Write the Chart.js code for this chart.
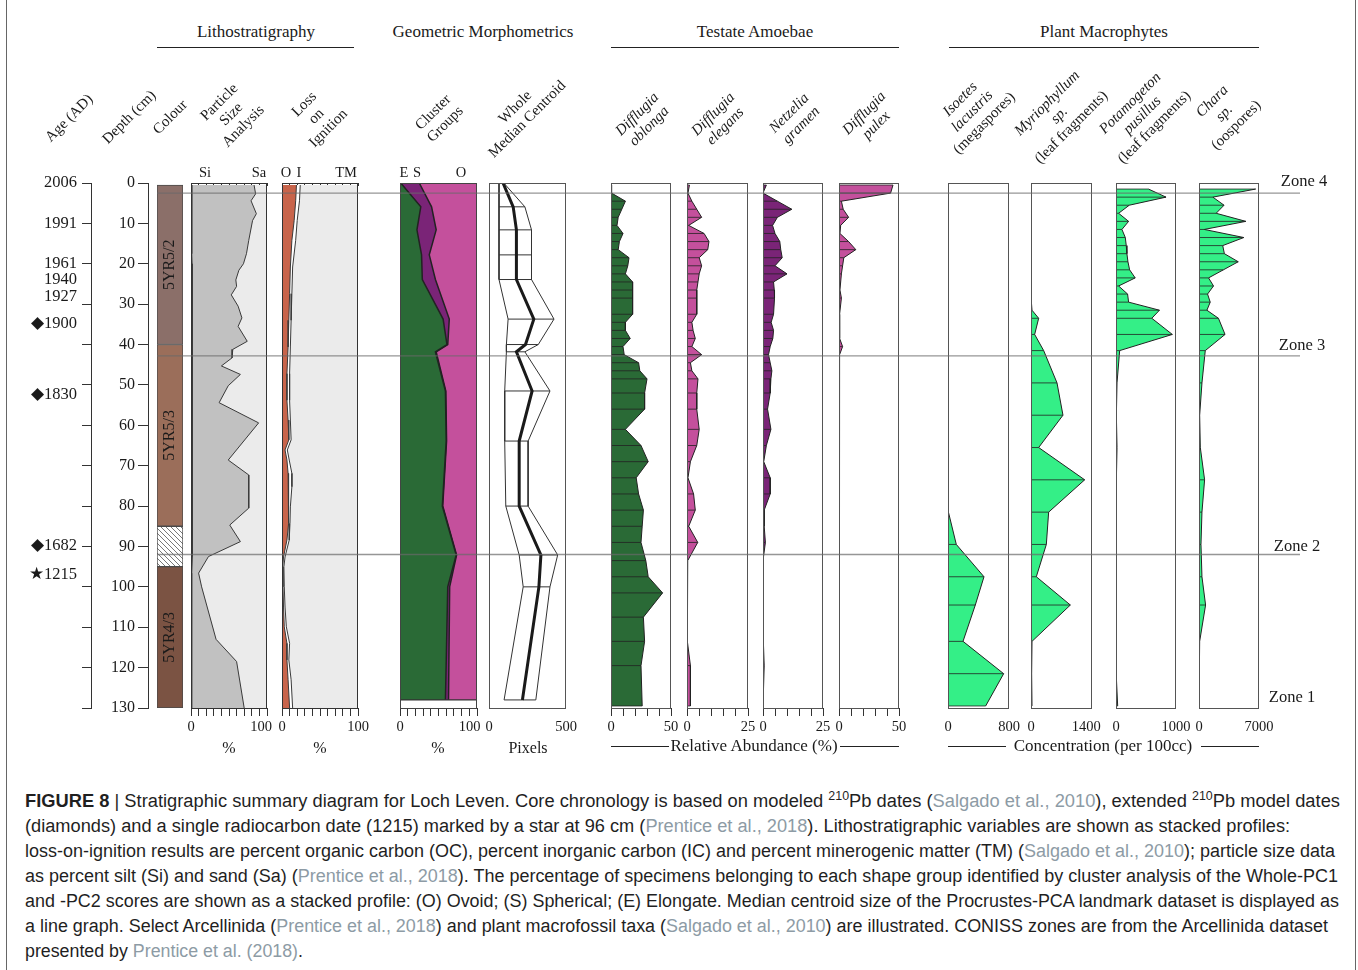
<!DOCTYPE html>
<html>
<head>
<meta charset="utf-8">
<script src="https://cdn.jsdelivr.net/npm/chart.js@4.4.1/dist/chart.umd.min.js"></script>
<style>
  html, body { margin: 0; padding: 0; background: #fff; }
  body { width: 1358px; height: 970px; position: relative; overflow: hidden;
         font-family: "Liberation Serif", "Times New Roman", serif; color: #1a1a1a; }
  canvas { position: absolute; }
  .t { position: absolute; white-space: nowrap; font-size: 16px; line-height: 18px; transform: translate(-50%, -50%); }
  .rot { position: absolute; white-space: nowrap; text-align: center; font-size: 15px; line-height: 17px;
         transform: translate(-50%, -50%) rotate(-45deg); }
  .hl { position: absolute; height: 0; border-top: 1.3px solid #222; }
  #frame { position: absolute; left: 6px; top: -3px; width: 1348px; height: 990px; border: 1.5px solid #666; }
  #caption { position: absolute; left: 25px; top: 789px; font-family: "Liberation Sans Narrow", "Liberation Sans", Arial, sans-serif;
             font-size: 18px; line-height: 25px; color: #1f1f1f; white-space: nowrap; }
  #caption > div { transform-origin: 0 50%; }
  #caption .ref { color: #8d9ba5; }
  #caption sup { font-size: 0.68em; line-height: 0; }
</style>
</head>
<body>
<div id="frame"></div>
<div id="caption"></div>
<script>
// ===================== DATA =====================
// Age axis (labels placed at their depth in cm)
const ageDepths = [0, 10, 20, 24, 28.2, 34.9, 52.3, 89.9, 97];
const ageLabels = ['2006', '1991', '1961', '1940', '1927', '\u25C61900', '\u25C61830', '\u25C61682', '\u26051215'];

// Munsell colour units (depth ranges, cm)
const colourTop = [0.5, 40, 85, 95];
const colourBottom = [40, 85, 95, 130];
const colourNames = ['5YR5/2', '5YR5/3', '', '5YR4/3'];

// Particle size analysis (%)
const psDepth = [0.5, 2.7, 4.4, 7.6, 9.3, 14.2, 17.5, 20, 21.6, 24, 25.6, 27.7, 30.5, 33.4, 35.5, 39.2, 41.2, 43.3, 45.3, 47.4, 50.2, 54.4, 59.4, 68.6, 72.3, 80.5, 84.7, 88.8, 92.5, 96.6, 100, 113, 118.5, 130];
const psClay = [1, 1, 1, 1, 1, 1, 1, 1.5, 1.5, 1.5, 1.5, 1.5, 1.5, 1.5, 1.5, 2, 2, 2, 2, 2, 2, 2, 2.5, 2, 2, 2, 2, 2, 1.5, 1, 1, 1, 1, 0.5];
const psSilt = [82, 84, 78, 85, 80, 75, 72, 67.5, 61.5, 57.5, 58.5, 51.5, 60.5, 65.5, 60.5, 72, 53, 52, 38, 63, 47, 35, 86.5, 47, 74, 74, 49, 63, 21.5, 9, 13, 32, 59, 69.5];

// Loss on ignition (%)
const loiDepth = [0.5, 4.4, 9.3, 14.2, 20.8, 27.4, 34, 40.6, 47.2, 53.8, 58.7, 63.6, 66.1, 68.6, 71.9, 75.2, 80.2, 84.3, 88.4, 92.6, 95, 100, 105, 109.9, 114, 118.1, 123, 130];
const loiOC = [19, 18, 16, 13, 11, 10, 9, 8, 6.5, 6.5, 8, 9, 4, 6.5, 8, 9, 9, 8, 6.5, 2, 1, 1.3, 2, 3, 6.5, 6.5, 8, 10];
const loiIC = [5, 5, 4, 5, 3, 3, 3, 3, 3.5, 3.5, 3, 3, 3, 3, 5, 4, 2, 2.5, 3, 2, 1.5, 1.7, 2, 2.7, 3.5, 2.5, 4, 4];

// Geometric morphometrics
const gmDepth = [0, 5.9, 11.6, 17.8, 23.9, 33.7, 40, 41.8, 51.5, 63.9, 80, 92.1, 100, 128];
const gmElongate = [1, 27, 22, 28, 29, 56, 61, 46, 59, 60, 55, 73, 62, 59];
const gmSpherical = [24, 14, 25, 10, 17, 8, 1, 1, 0.5, 0.5, 0.5, 0.5, 2.5, 4];
const centroidLower = [65, 65, 65, 65, 65, 124, 113, 113, 102, 102, 109, 196, 222, 98];
const centroidMedian = [91, 157, 178, 178, 178, 291, 237, 178, 280, 196, 196, 337, 324, 217];
const centroidUpper = [96, 233, 276, 276, 276, 422, 320, 233, 396, 254, 254, 446, 396, 304];

// Testate amoebae (relative abundance %)
const taDepth = [0.5, 2.5, 4.5, 6.5, 8.5, 10.5, 12.5, 14.5, 16.5, 18.5, 20.5, 22.5, 24.5, 26.5, 28.5, 32.5, 34.5, 36.5, 38.5, 40.5, 42.5, 44.5, 46.5, 48.5, 52, 56, 61, 65, 69, 73, 77, 81, 85, 89, 93.5, 97.5, 101.5, 107.5, 113.5, 119.5, 129.5];
const oblonga = [0, 0.5, 12, 9, 6, 5, 10, 7, 6, 15, 14, 12, 18, 18, 18, 18, 12, 12, 16, 10, 11, 23, 24, 30, 28, 28, 12, 25, 31, 21, 23, 27, 26, 25, 29, 31, 43, 27, 28, 25, 26];
const elegans = [1, 0.4, 2, 4, 6, 0.7, 7, 9, 8.5, 5, 6, 5, 4.5, 4, 4, 4, 2, 2.5, 3.4, 2, 6, 1.4, 2, 4.5, 4, 4, 5, 4, 1.4, 0.4, 2.7, 3.4, 0.7, 4.4, 0.3, 0.1, 0.1, 0.1, 0.3, 1.4, 1.4];
const gramen = [1.4, 0, 6, 12, 6, 4, 5, 7, 7.4, 8, 5, 10, 4.4, 4.7, 4.8, 4.4, 3.4, 4.4, 4.1, 3, 2.3, 3, 3.7, 3.3, 3, 1.9, 3.3, 1.4, 0.3, 3, 3, 0.5, 0.5, 1, 0, 0.3, 0, 0, 0.3, 0.5, 0];
const pulex = [45, 43, 2, 3.5, 8, 1.4, 0.8, 8, 14, 4, 3, 2, 1.4, 0.8, 2, 0.5, 0.8, 0.3, 0.5, 3, 0.5, 0.3, 0.3, 0.3, 0.3, 0.3, 0.3, 0.3, 0.5, 0.5, 0.5, 0.3, 0.3, 0.3, 0.3, 0.3, 0.3, 0.3, 0.3, 0.3, 0.3];

// Plant macrophytes (concentration per 100cc)
const mpDepth = [1.5, 3.5, 5.5, 7.5, 9.5, 11.5, 13.5, 15.5, 17.5, 19.5, 21.5, 23.5, 25.5, 27.5, 29.5, 31.5, 33.5, 37.5, 41.5, 49.5, 57.5, 65.5, 73.5, 81.5, 89.5, 97.5, 104.5, 113.5, 121.5, 129.5];
const isoetes = [5, 5, 5, 5, 5, 5, 5, 5, 5, 5, 5, 5, 5, 5, 5, 5, 5, 5, 5, 8, 10, 12, 9, 0, 109, 472, 358, 197, 730, 494];
const myriophyllum = [3, 3, 3, 5, 5, 5, 8, 8, 10, 10, 12, 12, 15, 15, 18, 23, 176, 84, 291, 597, 734, 176, 1232, 405, 352, 122, 903, 23, 15, 23];
const potamogeton = [541, 834, 221, 44, 210, 99, 155, 171, 182, 199, 227, 320, 44, 193, 210, 724, 597, 939, 61, 17, 6, 17, 6, 3, 3, 3, 3, 3, 3, 28];
const chara = [6615, 1615, 2923, 2000, 5462, 615, 5231, 2769, 2962, 4577, 2846, 1115, 1692, 1000, 1308, 923, 2269, 3038, 731, 346, 77, 154, 654, 346, 231, 346, 769, 77, 0, 0];

// CONISS zone boundaries (cm)
const zoneDepths = [2.5, 42.8, 92];

// ===================== LAYOUT / STYLE =====================
const PLOT_TOP = 183, PLOT_BOTTOM = 708, PAD = 30, AXIS_H = 34;
const SERIF = '"Liberation Serif", "Times New Roman", serif';
const C = { green: '#2A6A36', purple: '#7A2477', pink: '#C4509C', bright: '#34EF87', red: '#C8644B',
            greyD: '#C1C1C1', greyL: '#EBEBEB', ink: '#222' };

Chart.defaults.font.family = SERIF;
Chart.defaults.color = '#1a1a1a';
Chart.defaults.animation = false;
Chart.defaults.responsive = false;
Chart.defaults.events = [];
Chart.defaults.plugins.legend.display = false;
Chart.defaults.plugins.tooltip.enabled = false;

function canvasAt(left, top, w, h) {
  const c = document.createElement('canvas');
  c.width = w; c.height = h;
  c.style.left = left + 'px'; c.style.top = top + 'px';
  c.style.width = w + 'px'; c.style.height = h + 'px';
  document.body.appendChild(c);
  return c;
}

const boxPlugin = {
  id: 'box',
  afterDatasetsDraw(chart, args, opts) {
    if (opts.show === false) return;
    const { ctx, chartArea: a } = chart;
    ctx.save();
    ctx.strokeStyle = opts.color || '#555';
    ctx.lineWidth = 1;
    ctx.strokeRect(Math.round(a.left) + 0.5, Math.round(a.top) + 0.5,
                   Math.round(a.right - a.left) - 1, Math.round(a.bottom - a.top));
    ctx.restore();
  }
};

const pts = (depths, vals) => depths.map((d, i) => ({ x: vals[i], y: d }));
const cum = (...arrs) => arrs[0].map((_, i) => arrs.reduce((s, a) => s + a[i], 0));
const zeros = n => new Array(n).fill(0);
const fullCol = (depths, v) => [{ x: v, y: depths[0] }, { x: v, y: depths[depths.length - 1] }];
function rungPts(depths, lo, hi, from = 0) {
  const out = [];
  for (let i = from; i < depths.length; i++) {
    out.push({ x: lo[i], y: depths[i] }, { x: hi[i], y: depths[i] }, { x: null, y: depths[i] });
  }
  return out;
}
function silhouette(depths, vals, color) {
  return [
    { data: pts(depths, vals), fill: 'origin', backgroundColor: color, borderColor: C.ink, borderWidth: 1, order: 2 },
    { data: rungPts(depths, zeros(depths.length), vals), fill: false, borderColor: C.ink, borderWidth: 0.8, order: 1 }
  ];
}

function panel(left, right, min, max, step, datasets, o = {}) {
  const w = right - left, h = PLOT_BOTTOM - PLOT_TOP;
  const cv = canvasAt(left - PAD, PLOT_TOP - PAD, w + 2 * PAD, h + PAD + AXIS_H + 6);
  const maxLabel = String(max) + '\u2009'.repeat(o.maxPad || 0);
  const scales = {
    x: {
      type: 'linear', axis: 'x', min, max, position: 'bottom',
      afterFit: s => { s.height = AXIS_H; },
      border: { display: false },
      grid: { display: o.ticks !== false, drawOnChartArea: false, drawTicks: true, tickLength: 8, color: '#333', lineWidth: 1 },
      ticks: { stepSize: step, autoSkip: false, maxRotation: 0, minRotation: 0, padding: 2, color: '#1a1a1a',
               font: { family: SERIF, size: 14.5 },
               callback: v => v === min ? String(v) : (v === max ? maxLabel : '') }
    },
    y: { type: 'linear', axis: 'y', min: 0, max: 130, reverse: true, display: false }
  };
  if (o.topTicks) {
    scales.xt = {
      type: 'linear', axis: 'x', min, max, position: 'top',
      afterFit: s => { s.height = 0; },
      border: { display: false },
      grid: { drawOnChartArea: false, drawTicks: true, tickLength: -3, color: '#333', lineWidth: 1 },
      ticks: { display: false, stepSize: step, autoSkip: false }
    };
  }
  return new Chart(cv, {
    type: 'line',
    data: { datasets },
    options: {
      indexAxis: 'y',
      layout: { padding: { left: PAD, right: PAD, top: PAD, bottom: 6 } },
      scales,
      elements: { point: { radius: 0 }, line: { tension: 0, borderJoinStyle: 'miter' } },
      plugins: { box: { color: o.boxColor || '#555' } }
    },
    plugins: [boxPlugin]
  });
}

// ---------- Age & depth axes ----------
function yAxisChart(axisRight, axisWidth, yopts) {
  const cv = canvasAt(axisRight - axisWidth, PLOT_TOP - 20, axisWidth + 4, PLOT_BOTTOM - PLOT_TOP + 40);
  return new Chart(cv, {
    type: 'line', data: { datasets: [] },
    options: {
      layout: { padding: { left: 0, right: 0, top: 20, bottom: 20 } },
      scales: {
        x: { type: 'linear', display: false, min: 0, max: 1 },
        y: Object.assign({ type: 'linear', min: 0, max: 130, reverse: true, position: 'left',
                           afterFit: s => { s.width = axisWidth; } }, yopts)
      }
    }
  });
}
yAxisChart(91, 12, {
  border: { display: true, color: '#333', width: 1 },
  grid: { drawOnChartArea: false, drawTicks: true, tickLength: 9, color: '#333' },
  ticks: { display: false, stepSize: 10 }
});
yAxisChart(82, 76, {
  border: { display: false },
  grid: { display: false, drawTicks: false },
  afterBuildTicks: s => { s.ticks = ageDepths.map(v => ({ value: v })); },
  ticks: { padding: 5, font: { family: SERIF, size: 16.5 }, color: '#1a1a1a', callback: (v, i) => ageLabels[i] }
});
yAxisChart(148, 50, {
  border: { display: true, color: '#333', width: 1 },
  grid: { drawOnChartArea: false, drawTicks: true, tickLength: 10, color: '#333' },
  ticks: { stepSize: 10, padding: 3, font: { family: SERIF, size: 16 }, color: '#1a1a1a' }
});

// ---------- Colour column ----------
function hatchPattern() {
  const s = 5, c = document.createElement('canvas');
  c.width = s; c.height = s;
  const g = c.getContext('2d');
  g.fillStyle = '#fff'; g.fillRect(0, 0, s, s);
  g.strokeStyle = '#555'; g.lineWidth = 0.8;
  g.beginPath();
  g.moveTo(0, 0); g.lineTo(s, s);
  g.moveTo(-s, 0); g.lineTo(0, s);
  g.moveTo(0, -s); g.lineTo(s, 0);
  g.stroke();
  return g.createPattern(c, 'repeat');
}
const colourFills = ['#8B6F69', '#9B6E5A', hatchPattern(), '#7B5343'];
const barLabelPlugin = {
  id: 'barLabels',
  afterDatasetsDraw(chart) {
    const { ctx } = chart;
    chart.data.datasets.forEach((ds, i) => {
      if (!ds.label) return;
      const el = chart.getDatasetMeta(i).data[0];
      const { x, y, base } = el.getProps(['x', 'y', 'base'], true);
      ctx.save();
      ctx.translate(x, (y + base) / 2);
      ctx.rotate(-Math.PI / 2);
      ctx.font = '16px ' + SERIF;
      ctx.fillStyle = '#1a1a1a';
      ctx.textAlign = 'center'; ctx.textBaseline = 'middle';
      ctx.fillText(ds.label, 0, 0);
      ctx.restore();
    });
  }
};
(function () {
  const left = 157, right = 183;
  const cv = canvasAt(left - 10, PLOT_TOP - 20, right - left + 20, PLOT_BOTTOM - PLOT_TOP + 40);
  new Chart(cv, {
    type: 'bar',
    data: {
      labels: ['colour'],
      datasets: colourTop.map((t, i) => ({
        label: colourNames[i], data: [[t, colourBottom[i]]], backgroundColor: colourFills[i],
        borderColor: '#4a4a4a', borderWidth: 1, borderSkipped: false, grouped: false,
        barPercentage: 1, categoryPercentage: 1
      }))
    },
    options: {
      layout: { padding: { left: 10, right: 10, top: 20, bottom: 20 } },
      scales: {
        x: { type: 'category', display: false },
        y: { type: 'linear', min: 0, max: 130, reverse: true, display: false }
      }
    },
    plugins: [barLabelPlugin]
  });
})();

// ---------- Particle size ----------
panel(191, 267, 0, 100, 10, [
  { data: fullCol(psDepth, 100), fill: 'origin', backgroundColor: C.greyL, borderWidth: 0, order: 10 },
  { data: pts(psDepth, cum(psClay, psSilt)), fill: 'origin', backgroundColor: C.greyD, borderColor: '#3a3a3a', borderWidth: 1, order: 5 },
  { data: pts(psDepth, psClay), fill: false, borderColor: '#3a3a3a', borderWidth: 1, order: 1 }
], { topTicks: true, boxColor: '#333', maxPad: 4 });

// ---------- Loss on ignition ----------
panel(282, 358, 0, 100, 10, [
  { data: fullCol(loiDepth, 100), fill: 'origin', backgroundColor: C.greyL, borderWidth: 0, order: 10 },
  { data: pts(loiDepth, cum(loiOC, loiIC)), fill: 'origin', backgroundColor: '#ffffff', borderColor: '#3a3a3a', borderWidth: 1, order: 5 },
  { data: pts(loiDepth, loiOC), fill: 'origin', backgroundColor: C.red, borderColor: '#3a3a3a', borderWidth: 1, order: 1 }
], { topTicks: true, boxColor: '#333' });

// ---------- Cluster groups ----------
const gmLast = gmDepth[gmDepth.length - 1];
panel(400, 477, 0, 100, 10, [
  { data: fullCol(gmDepth, 100), fill: 'origin', backgroundColor: C.pink, borderWidth: 0, order: 10 },
  { data: pts(gmDepth, cum(gmElongate, gmSpherical)), fill: 'origin', backgroundColor: C.purple, borderColor: C.ink, borderWidth: 1.5, order: 5 },
  { data: pts(gmDepth, gmElongate), fill: 'origin', backgroundColor: C.green, borderColor: C.ink, borderWidth: 1.5, order: 3 },
  { data: [{ x: 0, y: gmLast }, { x: 100, y: gmLast }], fill: false, borderColor: '#333', borderWidth: 1.2, order: 1 }
], { boxColor: '#444', maxPad: 5 });

// ---------- Whole median centroid ----------
panel(489, 566, 0, 500, 500, [
  { data: pts(gmDepth, centroidLower), fill: false, borderColor: '#333', borderWidth: 1, order: 3 },
  { data: pts(gmDepth, centroidUpper), fill: false, borderColor: '#333', borderWidth: 1, order: 3 },
  { data: rungPts(gmDepth, centroidLower, centroidUpper, 1), fill: false, borderColor: '#333', borderWidth: 1, order: 2 },
  { data: pts(gmDepth, centroidMedian), fill: false, borderColor: '#1a1a1a', borderWidth: 3, order: 1 }
], { ticks: false });

// ---------- Testate amoebae ----------
panel(611, 671, 0, 50, 10, silhouette(taDepth, oblonga, C.green));
panel(687, 748, 0, 25, 5, silhouette(taDepth, elegans, C.pink));
panel(763, 823, 0, 25, 5, silhouette(taDepth, gramen, C.purple));
panel(839, 899, 0, 50, 10, silhouette(taDepth, pulex, C.pink));

// ---------- Plant macrophytes ----------
panel(948, 1009, 0, 800, 800, silhouette(mpDepth, isoetes, C.bright), { ticks: false });
panel(1031, 1092, 0, 1400, 1400, silhouette(mpDepth, myriophyllum, C.bright), { ticks: false, maxPad: 4 });
panel(1116, 1176, 0, 1000, 1000, silhouette(mpDepth, potamogeton, C.bright), { ticks: false });
panel(1199, 1259, 0, 7000, 7000, silhouette(mpDepth, chara, C.bright), { ticks: false });

// ---------- Zone lines (overlay) ----------
(function () {
  const left = 157, right = 1300;
  const cv = canvasAt(left, PLOT_TOP - 20, right - left, PLOT_BOTTOM - PLOT_TOP + 40);
  new Chart(cv, {
    type: 'line',
    data: { datasets: zoneDepths.map(d => ({ data: [{ x: 0, y: d }, { x: 1, y: d }], borderColor: 'rgba(105,105,105,0.7)', borderWidth: 1.4, pointRadius: 0, fill: false })) },
    options: {
      layout: { padding: { left: 0, right: 0, top: 20, bottom: 20 } },
      scales: {
        x: { type: 'linear', min: 0, max: 1, display: false },
        y: { type: 'linear', min: 0, max: 130, reverse: true, display: false }
      }
    }
  });
})();

// ===================== TEXT =====================
function txt(html, x, y, cls = 't', extra = '') {
  const d = document.createElement('div');
  d.className = cls;
  d.innerHTML = html;
  d.style.left = x + 'px'; d.style.top = y + 'px';
  if (extra) d.style.cssText += extra;
  document.body.appendChild(d);
  return d;
}
function hline(x0, x1, y) {
  const d = document.createElement('div');
  d.className = 'hl';
  d.style.left = x0 + 'px'; d.style.top = y + 'px'; d.style.width = (x1 - x0) + 'px';
  document.body.appendChild(d);
}

// section headers
const H = 'font-size:17px;';
txt('Lithostratigraphy', 256, 32, 't', H);
txt('Geometric Morphometrics', 483, 32, 't', H);
txt('Testate Amoebae', 755, 32, 't', H);
txt('Plant Macrophytes', 1104, 32, 't', H);
hline(157, 354, 47);
hline(611, 899, 47);
hline(949, 1259, 47);

// rotated column titles
const rotLabels = [
  ['Age (AD)', 69, 118], ['Depth (cm)', 129, 117], ['Colour', 170, 117],
  ['Particle<br>Size<br>Analysis', 231, 114], ['Loss<br>on<br>Ignition', 316, 116],
  ['Cluster<br>Groups', 439, 118], ['Whole<br>Median Centroid', 521, 113],
  ['<i>Difflugia<br>oblonga</i>', 643, 120], ['<i>Difflugia<br>elegans</i>', 719, 120],
  ['<i>Netzelia<br>gramen</i>', 795, 119], ['<i>Difflugia<br>pulex</i>', 870, 119],
  ['<i>Isoetes<br>lacustris</i><br>(megaspores)', 972, 111],
  ['<i>Myriophyllum<br>sp.</i><br>(leaf fragments)', 1059, 115],
  ['<i>Potamogeton<br>pusillus</i><br>(leaf fragments)', 1142, 115],
  ['<i>Chara<br>sp.</i><br>(oospores)', 1224, 113]
];
rotLabels.forEach(([h, x, y]) => txt(h, x, y, 'rot'));

// component letters above stacked panels
[['Si', 205], ['Sa', 259], ['O', 286], ['I', 299], ['TM', 346], ['E', 404], ['S', 417], ['O', 461]]
  .forEach(([s, x]) => txt(s, x, 172, 't', 'font-size:14.5px;'));

// bottom axis titles
txt('%', 229, 748); txt('%', 320, 748); txt('%', 438, 748); txt('Pixels', 528, 748);
txt('Relative Abundance (%)', 754, 746, 't', H);
hline(611, 669, 746); hline(840, 899, 746);
txt('Concentration (per 100cc)', 1103, 746, 't', H);
hline(948, 1006, 746); hline(1201, 1259, 746);

// zone labels
const Z = 'font-size:16.5px;';
txt('Zone 4', 1304, 181, 't', Z);
txt('Zone 3', 1302, 345, 't', Z);
txt('Zone 2', 1297, 546, 't', Z);
txt('Zone 1', 1292, 697, 't', Z);

// caption
const R = s => '<span class="ref">' + s + '</span>';
const captionLines = [
  '<b>FIGURE 8</b> | Stratigraphic summary diagram for Loch Leven. Core chronology is based on modeled <sup>210</sup>Pb dates (' + R('Salgado et al., 2010') + '), extended <sup>210</sup>Pb model dates',
  '(diamonds) and a single radiocarbon date (1215) marked by a star at 96 cm (' + R('Prentice et al., 2018') + '). Lithostratigraphic variables are shown as stacked profiles:',
  'loss-on-ignition results are percent organic carbon (OC), percent inorganic carbon (IC) and percent minerogenic matter (TM) (' + R('Salgado et al., 2010') + '); particle size data',
  'as percent silt (Si) and sand (Sa) (' + R('Prentice et al., 2018') + '). The percentage of specimens belonging to each shape group identified by cluster analysis of the Whole-PC1',
  'and -PC2 scores are shown as a stacked profile: (O) Ovoid; (S) Spherical; (E) Elongate. Median centroid size of the Procrustes-PCA landmark dataset is displayed as',
  'a line graph. Select Arcellinida (' + R('Prentice et al., 2018') + ') and plant macrofossil taxa (' + R('Salgado et al., 2010') + ') are illustrated. CONISS zones are from the Arcellinida dataset',
  'presented by ' + R('Prentice et al. (2018)') + '.'
];
const captionLineWidths = [1315, 1265, 1310, 1313, 1314, 1303, 278];
const cap = document.getElementById('caption');
cap.innerHTML = captionLines.map(l => '<div><span>' + l + '</span></div>').join('');
cap.querySelectorAll(':scope > div').forEach((div, i) => {
  const w = div.querySelector('span').getBoundingClientRect().width;
  div.style.transform = 'scaleX(' + (captionLineWidths[i] / w).toFixed(4) + ')';
});
</script>
</body>
</html>
